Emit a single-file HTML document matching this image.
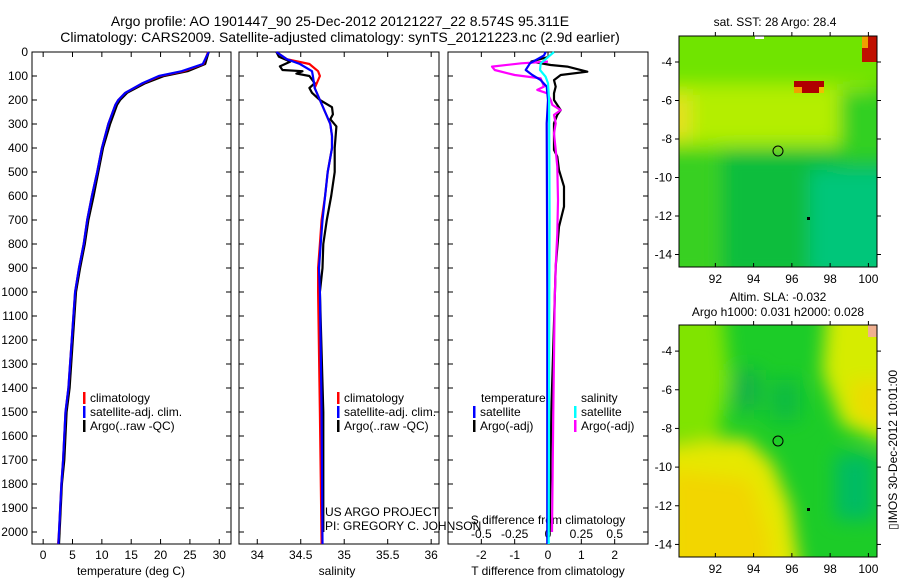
<!DOCTYPE html>
<html><head><meta charset="utf-8"><style>
body{margin:0;background:#fff;}
svg text{font-family:"Liberation Sans",sans-serif;fill:#000;}
</style></head><body>
<svg id="fig" width="900" height="580" viewBox="0 0 900 580" xmlns="http://www.w3.org/2000/svg">
<defs>
<filter id="bl" x="-30%" y="-30%" width="160%" height="160%"><feGaussianBlur stdDeviation="9"/></filter>
<filter id="bl2" x="-30%" y="-30%" width="160%" height="160%"><feGaussianBlur stdDeviation="9"/></filter>
<clipPath id="c1"><rect x="679" y="36" width="198" height="231"/></clipPath>
<clipPath id="c2"><rect x="679" y="325" width="198" height="232"/></clipPath>
</defs>
<text x="340" y="26" font-size="14" text-anchor="middle">Argo profile: AO 1901447_90 25-Dec-2012 20121227_22 8.574S 95.311E</text>
<text x="340" y="42" font-size="14" text-anchor="middle">Climatology: CARS2009. Satellite-adjusted climatology: synTS_20121223.nc (2.9d earlier)</text>

<!-- Map 1 -->
<g clip-path="url(#c1)">
<rect x="679" y="36" width="198" height="231" fill="#5ede00"/>
<g filter="url(#bl)">
<rect x="650" y="20" width="250" height="65" fill="#70e400"/>
<rect x="650" y="85" width="220" height="60" fill="#b4ee00"/>
<rect x="650" y="95" width="40" height="45" fill="#e6e020"/>
<rect x="720" y="150" width="180" height="130" fill="#0cbd3c"/>
<rect x="810" y="170" width="90" height="110" fill="#00c67a"/>
<rect x="650" y="150" width="68" height="130" fill="#38d020"/>
<rect x="840" y="90" width="60" height="70" fill="#30d020"/>
</g>
<rect x="794" y="81" width="30" height="12" fill="#b00000"/>
<rect x="794" y="87" width="8" height="6" fill="#f0a000"/>
<rect x="819" y="87" width="5" height="6" fill="#f0c000"/>
<rect x="862" y="36" width="15" height="26" fill="#c01000"/>
<rect x="862" y="36" width="6" height="12" fill="#f0a000"/>
<rect x="755" y="36" width="9" height="3" fill="#fff"/>
<circle cx="778" cy="151" r="5" fill="none" stroke="#000"/>
<rect x="807" y="217" width="3" height="3" fill="#000"/>
</g>
<rect x="679" y="36" width="198" height="231" fill="none" stroke="#000"/>
<text x="775" y="26" font-size="12" text-anchor="middle">sat. SST: 28 Argo: 28.4</text>

<!-- Map 2 -->
<g clip-path="url(#c2)">
<rect x="679" y="325" width="198" height="232" fill="#1ccc28"/>
<g filter="url(#bl2)">
<path d="M660 300 L722 300 L730 380 L718 440 L660 440 Z" fill="#80e400"/>
<path d="M660 445 L745 438 L772 462 L790 505 L802 580 L660 580 Z" fill="#e6e800"/>
<path d="M670 470 L750 480 L770 540 L770 580 L670 580 Z" fill="#f2d600"/>
<path d="M828 300 L900 300 L900 448 L842 425 L822 372 Z" fill="#d6ec00"/>
<path d="M850 380 L890 380 L890 430 L855 420 Z" fill="#ecdc00"/>
<path d="M735 370 L760 370 L760 410 L735 410 Z" fill="#14b446"/>
<path d="M770 380 L800 380 L800 420 L770 420 Z" fill="#10bc40"/>
<path d="M835 455 L875 455 L875 520 L835 520 Z" fill="#06bc62"/>
</g>
<circle cx="778" cy="441" r="5" fill="none" stroke="#000"/>
<rect x="807" y="508" width="3" height="3" fill="#000"/>
<rect x="868" y="325" width="9" height="12" fill="#f0b090"/>
</g>
<rect x="679" y="325" width="198" height="232" fill="none" stroke="#000"/>
<text x="778" y="301" font-size="12" text-anchor="middle">Altim. SLA: -0.032</text>
<text x="778" y="316" font-size="12" text-anchor="middle">Argo h1000: 0.031 h2000: 0.028</text>
<text transform="translate(897,450) rotate(-90)" font-size="12" text-anchor="middle">▯IMOS 30-Dec-2012 10:01:00</text>

<g id="plots"></g>
</svg>
<script>
// ---------- data ----------
const tempDepth = [0,50,80,100,130,170,200,220,300,400,500,600,700,800,900,1000,1400,1500,1700,1800,2000,2050];
const tempClim  = [28.1,27.3,23.9,19.9,17,14,12.8,12.3,11.1,10,9.2,8.3,7.5,6.9,6.1,5.45,4.3,3.8,3.4,3.1,2.7,2.55];
const tempSat   = [28.2,27.2,23.6,19.7,16.9,14,12.8,12.3,11.1,10,9.2,8.3,7.5,6.9,6.1,5.45,4.3,3.8,3.4,3.1,2.7,2.6];
const tempArgo  = [28.2,27.6,24.6,20.6,17.4,14.3,13.1,12.6,11.4,10.2,9.4,8.6,7.7,7.1,6.3,5.6,4.5,4.0,3.6,3.2,2.8,2.7];

const salDepth = [0,30,50,80,100,150,200,300,350,400,500,600,700,800,900,1000,1500,2050];
const salClim  = [34.22,34.34,34.6,34.7,34.72,34.66,34.72,34.84,34.86,34.86,34.81,34.78,34.74,34.72,34.7,34.7,34.72,34.74];
const salSat   = [34.22,34.34,34.49,34.63,34.64,34.66,34.72,34.84,34.86,34.86,34.81,34.78,34.75,34.73,34.71,34.72,34.74,34.75];
const argoSalDepth = [0,20,40,60,75,80,90,100,130,150,170,200,230,260,280,310,400,500,600,700,800,900,1000,1500,2000];
const argoSal = [34.22,34.25,34.38,34.26,34.29,34.52,34.45,34.6,34.66,34.6,34.63,34.72,34.86,34.87,34.84,34.91,34.89,34.89,34.85,34.8,34.76,34.75,34.72,34.76,34.76];

const dTDepthSat = [0,14,47,75,96,117,144,200,297,1000,2050];
const dTSat      = [-0.07,-0.12,-0.54,-0.67,-0.47,-0.22,-0.04,0,-0.04,-0.02,-0.02];
const dSDepthSat = [0,47,75,103,130,200,700,1000,2050];
const dSSat      = [0.045,-0.055,-0.06,-0.018,0,0.008,0.012,0.01,0.005];
const dSDepthArgo = [40,47,61,75,96,110,144,158,172,200,221,242,262,297,339,408,478,617,756,894,1033,1500,2000];
const dSArgo      = [0,-0.2,-0.42,-0.4,-0.25,-0.055,-0.03,-0.08,-0.005,0.02,0.033,0.095,0.045,0.058,0.045,0.058,0.07,0.075,0.07,0.058,0.05,0.04,0.03];
const dTDepthArgo = [21,40,54,61,82,96,117,144,172,200,242,262,297,408,436,492,561,644,728,894,1033,1500,2000];
const dTArgo      = [0,-0.5,0.08,0.58,1.18,0.38,0.18,0.23,0.18,0.18,0.38,0.28,0.18,0.18,0.28,0.33,0.48,0.48,0.33,0.23,0.2,0.1,0.05];

const tTicks = [0,5,10,15,20,25,30];
const sTicks = [34,34.5,35,35.5,36];
const dTicks = [-2,-1,0,1,2];
const dsTicks = [-0.5,-0.25,0,0.25,0.5];
const depthTicks = [0,100,200,300,400,500,600,700,800,900,1000,1100,1200,1300,1400,1500,1600,1700,1800,1900,2000];
const lonTicks = [92,94,96,98,100];
const latTicks = [-4,-6,-8,-10,-12,-14];

// ---------- scales ----------
const NS='http://www.w3.org/2000/svg';
const G=document.getElementById('plots');
const Y0=52, Y1=544;
const yD = d => Y0 + (d/2050)*(Y1-Y0);
function lin(d0,d1,r0,r1){return v=>r0+(v-d0)/(d1-d0)*(r1-r0);}
const xT = lin(-1.9,32,32,231);
const xS = lin(33.79,36.09,239,439);
const xDT = lin(-3,3,448,648);
const xDS = v => xDT(v*4);
function el(tag,attrs,parent){const e=document.createElementNS(NS,tag);for(const k in attrs)e.setAttribute(k,attrs[k]);(parent||G).appendChild(e);return e;}
function line(xs,ds,sx,color,name){
  const pts=xs.map((v,i)=>sx(v).toFixed(1)+','+yD(ds[i]).toFixed(1)).join(' ');
  const p=el('polyline',{points:pts,fill:'none',stroke:color,'stroke-width':2.2,'stroke-linejoin':'round'});
  
  
}
function txt(x,y,s,size,anchor,name){const t=el('text',{x:x,y:y,'font-size':size,'text-anchor':anchor||'start'});t.textContent=s;
  
  
  return t;}
function frame(x0,x1,name){
  const r=el('rect',{x:x0,y:Y0,width:x1-x0,height:Y1-Y0,fill:'none',stroke:'#000','stroke-width':1});
  
  
  depthTicks.forEach(d=>{const y=yD(d);el('line',{x1:x0,x2:x0+5,y1:y,y2:y,stroke:'#000'});el('line',{x1:x1,x2:x1-5,y1:y,y2:y,stroke:'#000'});});
}
function xticks(ticks,sx,labels,name){
  ticks.forEach(t=>{const x=sx(t);el('line',{x1:x,x2:x,y1:Y1,y2:Y1-5,stroke:'#000'});el('line',{x1:x,x2:x,y1:Y0,y2:Y0+5,stroke:'#000'});
    txt(x,559,String(t),12,'middle',name);});
}
// panel 1
frame(32,231,'temperature-axes');
depthTicks.forEach(d=>txt(28,yD(d)+4,String(d),12,'end','depth-tick-label'));
xticks(tTicks,xT,null,'temperature-tick-label');
txt(131,575,'temperature (deg C)',12,'middle','temperature-axis-title');
line(tempArgo,tempDepth,xT,'#000','temp-argo-line');
line(tempClim,tempDepth,xT,'#f00','temp-clim-line');
line(tempSat,tempDepth,xT,'#00f','temp-sat-line');
// panel 2
frame(239,439,'salinity-axes');
xticks(sTicks,xS,null,'salinity-tick-label');
txt(337,575,'salinity',12,'middle','salinity-axis-title');
line(argoSal,argoSalDepth,xS,'#000','sal-argo-line');
line(salClim,salDepth,xS,'#f00','sal-clim-line');
line(salSat,salDepth,xS,'#00f','sal-sat-line');
// panel 3
frame(448,648,'difference-axes');
dTicks.forEach(t=>{const x=xDT(t);el('line',{x1:x,x2:x,y1:Y1,y2:Y1-5,stroke:'#000'});txt(x,559,String(t),12,'middle','t-diff-tick-label');});
dsTicks.forEach(t=>{const x=xDS(t);el('line',{x1:x,x2:x,y1:Y0,y2:Y0+5,stroke:'#000'});txt(x,538,String(t),12,'middle','s-diff-tick-label');});
txt(548,575,'T difference from climatology',12,'middle','t-diff-axis-title');
txt(548,524,'S difference from climatology',12,'middle','s-diff-axis-title');
line(dTArgo,dTDepthArgo,xDT,'#000','dt-argo-line');
line(dSArgo,dSDepthArgo,xDS,'#f0f','ds-argo-line');
line(dTSat,dTDepthSat,xDT,'#00f','dt-sat-line');
line(dSSat,dSDepthSat,xDS,'#0ff','ds-sat-line');
// legends
function leg(x,y,color,label,name){const r=el('rect',{x:x,y:y-10,width:2.5,height:12,fill:color});
  
  
  txt(x+7,y,label,12,'start',name);}
leg(83,402,'#f00','climatology','legend-t-climatology');
leg(83,416,'#00f','satellite-adj. clim.','legend-t-satellite');
leg(83,430,'#000','Argo(..raw -QC)','legend-t-argo');
leg(337,402,'#f00','climatology','legend-s-climatology');
leg(337,416,'#00f','satellite-adj. clim.','legend-s-satellite');
leg(337,430,'#000','Argo(..raw -QC)','legend-s-argo');
txt(481,402,'temperature',12,'start','legend-temperature-heading');
txt(581,402,'salinity',12,'start','legend-salinity-heading');
leg(473,416,'#00f','satellite','legend-dt-satellite');
leg(473,430,'#000','Argo(-adj)','legend-dt-argo');
leg(574,416,'#0ff','satellite','legend-ds-satellite');
leg(574,430,'#f0f','Argo(-adj)','legend-ds-argo');
txt(325,516,'US ARGO PROJECT',12,'start','project-credit');
txt(325,530,'PI: GREGORY C. JOHNSON',12,'start','pi-credit');
// map ticks
const mx = lin(90.1,100.45,679,877);
const my1 = lin(-2.65,-14.65,36,267);
const my2 = lin(-2.65,-14.65,325,557);
[[my1,36,267,'sst'],[my2,325,557,'sla']].forEach(([my,t,b,n])=>{
  lonTicks.forEach(l=>{const x=mx(l);el('line',{x1:x,x2:x,y1:t,y2:t-4,stroke:'#000'});el('line',{x1:x,x2:x,y1:b,y2:b-4,stroke:'#000'});txt(x,b+16,String(l),12,'middle',n+'-lon-tick-label');});
  latTicks.forEach(l=>{const y=my(l);el('line',{x1:679,x2:675,y1:y,y2:y,stroke:'#000'});el('line',{x1:877,x2:881,y1:y,y2:y,stroke:'#000'});txt(672,y+4,String(l),12,'end',n+'-lat-tick-label');});
});
</script>
</body></html>
